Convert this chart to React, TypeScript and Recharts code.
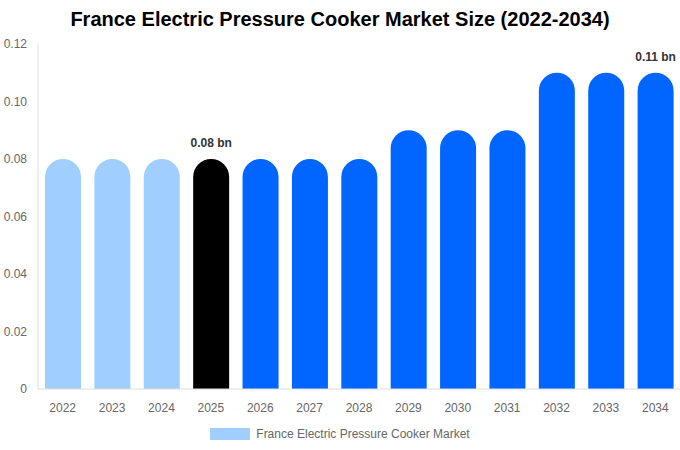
import { BarChart, Bar, XAxis, YAxis, Cell, LabelList, Legend } from 'recharts';

const years = ['2022', '2023', '2024', '2025', '2026', '2027', '2028', '2029', '2030', '2031', '2032', '2033', '2034'];
const marketSize = [0.08, 0.08, 0.08, 0.08, 0.08, 0.08, 0.08, 0.09, 0.09, 0.09, 0.11, 0.11, 0.11];
const barLabels = ['', '', '', '0.08 bn', '', '', '', '', '', '', '', '', '0.11 bn'];
const yTicks = [0, 0.02, 0.04, 0.06, 0.08, 0.1, 0.12];

const HISTORY = '#a0cfff';
const CURRENT = '#000000';
const FORECAST = '#0066ff';

const data = years.map((year, i) => ({ year, value: marketSize[i], label: barLabels[i] }));

function barColor(i: number) {
  if (i < 3) return HISTORY;
  if (i === 3) return CURRENT;
  return FORECAST;
}

function LegendContent() {
  return (
    <div style={{ display: 'flex', justifyContent: 'center', alignItems: 'center', fontSize: 12, color: '#666', marginTop: 8 }}>
      <span style={{ display: 'inline-block', width: 40, height: 12, background: HISTORY, marginRight: 6 }} />
      France Electric Pressure Cooker Market
    </div>
  );
}

function TopLabel(props: any) {
  const { x, y, width, value } = props;
  if (!value) return null;
  return (
    <text x={x + width / 2} y={y - 12} textAnchor="middle" fontSize={12} fontWeight="bold" fill="#333">
      {value}
    </text>
  );
}

export default function App() {
  return (
    <div style={{ position: 'fixed', top: 0, left: 0, width: 680, height: 450, background: '#fff', fontFamily: 'Liberation Sans, Arial, sans-serif' }}>
      <div style={{ position: 'absolute', top: 8, left: 0, width: 680, textAlign: 'center', fontSize: 20, fontWeight: 'bold', color: '#000' }}>
        France Electric Pressure Cooker Market Size (2022-2034)
      </div>
      <BarChart width={680} height={450} data={data} margin={{ top: 44, right: 0, bottom: 5, left: 0 }} barCategoryGap={0}>
        <XAxis
          dataKey="year"
          tickLine={false}
          axisLine={{ stroke: '#ddd' }}
          tick={{ fontSize: 12, fill: '#666' }}
          height={30}
          tickMargin={8}
        />
        <YAxis
          width={38}
          domain={[0, 0.12]}
          ticks={yTicks}
          tickFormatter={(v: number) => (v === 0 ? '0' : v.toFixed(2))}
          tickLine={false}
          axisLine={{ stroke: '#ddd' }}
          tick={{ fontSize: 12, fill: '#666' }}
          tickMargin={5}
        />
        <Legend verticalAlign="bottom" height={26} content={<LegendContent />} />
        <Bar dataKey="value" barSize={36} radius={[18, 18, 0, 0]} isAnimationActive={false} fill={HISTORY}>
          {data.map((_, i) => (
            <Cell key={`cell-${i}`} fill={barColor(i)} />
          ))}
          <LabelList dataKey="label" content={<TopLabel />} />
        </Bar>
      </BarChart>
    </div>
  );
}
